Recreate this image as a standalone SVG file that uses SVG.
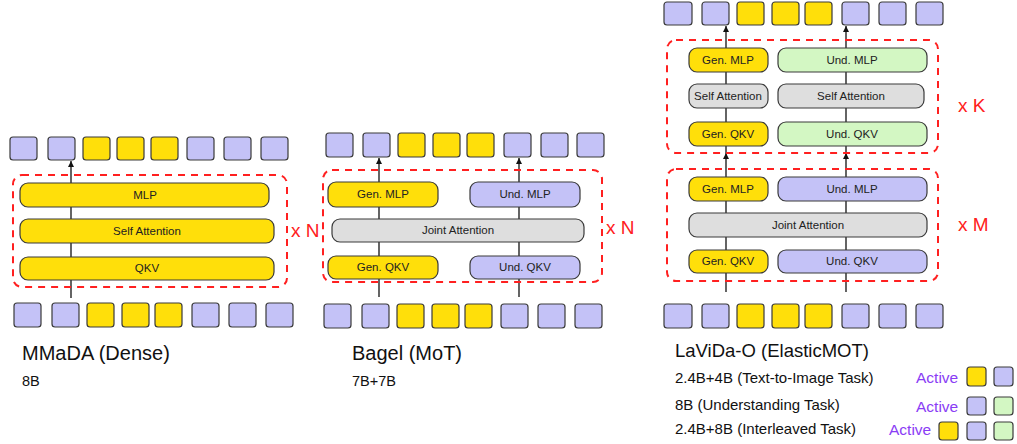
<svg xmlns="http://www.w3.org/2000/svg" width="1017" height="444" viewBox="0 0 1017 444">
<defs>
<style>
.y{fill:#FFDF0A;stroke:#3a3a3a;stroke-width:1.2}
.p{fill:#C4C2F7;stroke:#3a3a3a;stroke-width:1.2}
.g{fill:#D3F7C3;stroke:#3a3a3a;stroke-width:1.2}
.s{fill:#DEDEDE;stroke:#3a3a3a;stroke-width:1.2}
.d{fill:none;stroke:#FF2020;stroke-width:2;stroke-dasharray:7,6}
.c{stroke:#111;stroke-width:1.3;fill:none;marker-end:url(#ah)}
.bt{font-family:"Liberation Sans",Arial,sans-serif;font-size:11.5px;fill:#222;text-anchor:middle}
.rt{font-family:"Liberation Sans",Arial,sans-serif;font-size:19px;fill:#FF2020}
.tt{font-family:"Liberation Sans",Arial,sans-serif;font-size:20px;fill:#111}
.st{font-family:"Liberation Sans",Arial,sans-serif;font-size:14.5px;fill:#111}
.lt{font-family:"Liberation Sans",Arial,sans-serif;font-size:15px;fill:#111}
.at{font-family:"Liberation Sans",Arial,sans-serif;font-size:15.5px;fill:#8A3CF5}
</style>
<marker id="ah" viewBox="0 0 8 8" refX="8" refY="4" markerWidth="6" markerHeight="6" orient="auto" markerUnits="userSpaceOnUse">
<path d="M0,0 L8,4 L0,8 z" fill="#111"/>
</marker>
</defs>
<rect width="1017" height="444" fill="#fff"/>

<g id="connectors">
<line class="c" x1="71" y1="298" x2="71" y2="161"/>
<line class="c" x1="379" y1="297" x2="379" y2="158"/>
<line class="c" x1="519" y1="297" x2="519" y2="158"/>
<line class="c" x1="726" y1="292" x2="726" y2="153"/>
<line class="c" x1="846" y1="292" x2="846" y2="153"/>
<line class="c" x1="726" y1="153" x2="726" y2="26"/>
<line class="c" x1="846" y1="153" x2="846" y2="26"/>
</g>

<!-- Panel 1: MMaDA -->
<g id="mmada-tokens-top">
<rect class="p" x="10" y="137" width="27" height="23" rx="3"/>
<rect class="p" x="48" y="137" width="27" height="23" rx="3"/>
<rect class="y" x="83" y="137" width="27" height="23" rx="3"/>
<rect class="y" x="117" y="137" width="27" height="23" rx="3"/>
<rect class="y" x="151" y="137" width="27" height="23" rx="3"/>
<rect class="p" x="187" y="137" width="27" height="23" rx="3"/>
<rect class="p" x="224" y="137" width="27" height="23" rx="3"/>
<rect class="p" x="261" y="137" width="27" height="23" rx="3"/>
</g>
<g id="mmada-block">
<rect class="d" x="13" y="175" width="274" height="112" rx="9"/>
<text class="rt" x="291" y="237">x N</text>
</g>
<g id="mmada-mlp"><rect class="y" x="20" y="183" width="249" height="24" rx="8"/><text class="bt" x="145" y="199">MLP</text></g>
<g id="mmada-attn"><rect class="y" x="20" y="219" width="254" height="24" rx="8"/><text class="bt" x="147" y="235">Self Attention</text></g>
<g id="mmada-qkv"><rect class="y" x="20" y="257" width="254" height="23" rx="8"/><text class="bt" x="147" y="272">QKV</text></g>
<g id="mmada-tokens-bottom">
<rect class="p" x="14" y="303" width="27" height="24" rx="3"/>
<rect class="p" x="52" y="303" width="27" height="24" rx="3"/>
<rect class="y" x="87" y="303" width="27" height="24" rx="3"/>
<rect class="y" x="122" y="303" width="27" height="24" rx="3"/>
<rect class="y" x="155" y="303" width="27" height="24" rx="3"/>
<rect class="p" x="192" y="303" width="27" height="24" rx="3"/>
<rect class="p" x="229" y="303" width="27" height="24" rx="3"/>
<rect class="p" x="266" y="303" width="27" height="24" rx="3"/>
</g>
<g id="mmada-label">
<text class="tt" x="22" y="360">MMaDA (Dense)</text>
<text class="st" x="22" y="386">8B</text>
</g>

<!-- Panel 2: Bagel -->
<g id="bagel-tokens-top">
<rect class="p" x="326" y="133" width="27" height="24" rx="3"/>
<rect class="p" x="363" y="133" width="27" height="24" rx="3"/>
<rect class="y" x="398" y="133" width="27" height="24" rx="3"/>
<rect class="y" x="433" y="133" width="27" height="24" rx="3"/>
<rect class="y" x="467" y="133" width="27" height="24" rx="3"/>
<rect class="p" x="504" y="133" width="27" height="24" rx="3"/>
<rect class="p" x="541" y="133" width="27" height="24" rx="3"/>
<rect class="p" x="577" y="133" width="27" height="24" rx="3"/>
</g>
<g id="bagel-block">
<rect class="d" x="323" y="170" width="279" height="112" rx="9"/>
<text class="rt" x="606" y="234">x N</text>
</g>
<g id="bagel-gen-mlp"><rect class="y" x="328" y="182" width="110" height="25" rx="8"/><text class="bt" x="383" y="198">Gen. MLP</text></g>
<g id="bagel-und-mlp"><rect class="p" x="470" y="182" width="110" height="25" rx="8"/><text class="bt" x="525" y="198">Und. MLP</text></g>
<g id="bagel-joint"><rect class="s" x="332" y="219" width="252" height="23" rx="8"/><text class="bt" x="458" y="234">Joint Attention</text></g>
<g id="bagel-gen-qkv"><rect class="y" x="328" y="256" width="110" height="23" rx="8"/><text class="bt" x="383" y="271">Gen. QKV</text></g>
<g id="bagel-und-qkv"><rect class="p" x="470" y="256" width="110" height="23" rx="8"/><text class="bt" x="525" y="271">Und. QKV</text></g>
<g id="bagel-tokens-bottom">
<rect class="p" x="324" y="304" width="27" height="24" rx="3"/>
<rect class="p" x="362" y="304" width="27" height="24" rx="3"/>
<rect class="y" x="397" y="304" width="27" height="24" rx="3"/>
<rect class="y" x="432" y="304" width="27" height="24" rx="3"/>
<rect class="y" x="465" y="304" width="27" height="24" rx="3"/>
<rect class="p" x="501" y="304" width="27" height="24" rx="3"/>
<rect class="p" x="538" y="304" width="27" height="24" rx="3"/>
<rect class="p" x="575" y="304" width="27" height="24" rx="3"/>
</g>
<g id="bagel-label">
<text class="tt" x="352" y="360">Bagel (MoT)</text>
<text class="st" x="352" y="386">7B+7B</text>
</g>

<!-- Panel 3: LaViDa-O -->
<g id="lavida-tokens-top">
<rect class="p" x="664" y="2" width="28" height="23" rx="3"/>
<rect class="p" x="702" y="2" width="27" height="23" rx="3"/>
<rect class="y" x="737" y="2" width="27" height="23" rx="3"/>
<rect class="y" x="772" y="2" width="27" height="23" rx="3"/>
<rect class="y" x="805" y="2" width="27" height="23" rx="3"/>
<rect class="p" x="842" y="2" width="27" height="23" rx="3"/>
<rect class="p" x="879" y="2" width="27" height="23" rx="3"/>
<rect class="p" x="916" y="2" width="27" height="23" rx="3"/>
</g>
<g id="lavida-block-k">
<rect class="d" x="667" y="40" width="271" height="113" rx="9"/>
<text class="rt" x="958" y="112">x K</text>
</g>
<g id="k-gen-mlp"><rect class="y" x="689" y="48" width="79" height="24" rx="8"/><text class="bt" x="728" y="64">Gen. MLP</text></g>
<g id="k-und-mlp"><rect class="g" x="778" y="48" width="149" height="24" rx="8"/><text class="bt" x="852" y="64">Und. MLP</text></g>
<g id="k-gen-attn"><rect class="s" x="689" y="84" width="79" height="24" rx="8"/><text class="bt" x="728" y="100">Self Attention</text></g>
<g id="k-und-attn"><rect class="s" x="778" y="84" width="146" height="24" rx="8"/><text class="bt" x="851" y="100">Self Attention</text></g>
<g id="k-gen-qkv"><rect class="y" x="689" y="122" width="79" height="24" rx="8"/><text class="bt" x="728" y="138">Gen. QKV</text></g>
<g id="k-und-qkv"><rect class="g" x="778" y="122" width="149" height="24" rx="8"/><text class="bt" x="852" y="138">Und. QKV</text></g>

<g id="lavida-block-m">
<rect class="d" x="667" y="169" width="271" height="112" rx="9"/>
<text class="rt" x="958" y="231">x M</text>
</g>
<g id="m-gen-mlp"><rect class="y" x="689" y="177" width="79" height="24" rx="8"/><text class="bt" x="728" y="193">Gen. MLP</text></g>
<g id="m-und-mlp"><rect class="p" x="778" y="177" width="149" height="24" rx="8"/><text class="bt" x="852" y="193">Und. MLP</text></g>
<g id="m-joint"><rect class="s" x="689" y="213" width="238" height="24" rx="8"/><text class="bt" x="808" y="229">Joint Attention</text></g>
<g id="m-gen-qkv"><rect class="y" x="689" y="250" width="79" height="23" rx="8"/><text class="bt" x="728" y="265">Gen. QKV</text></g>
<g id="m-und-qkv"><rect class="p" x="778" y="250" width="149" height="23" rx="8"/><text class="bt" x="852" y="265">Und. QKV</text></g>

<g id="lavida-tokens-bottom">
<rect class="p" x="664" y="304" width="28" height="24" rx="3"/>
<rect class="p" x="702" y="304" width="27" height="24" rx="3"/>
<rect class="y" x="737" y="304" width="27" height="24" rx="3"/>
<rect class="y" x="772" y="304" width="27" height="24" rx="3"/>
<rect class="y" x="805" y="304" width="27" height="24" rx="3"/>
<rect class="p" x="842" y="304" width="27" height="24" rx="3"/>
<rect class="p" x="879" y="304" width="27" height="24" rx="3"/>
<rect class="p" x="916" y="304" width="27" height="24" rx="3"/>
</g>
<g id="lavida-label">
<text class="tt" x="675" y="357" style="font-size:18.5px">LaViDa-O (ElasticMOT)</text>
<text class="lt" x="675" y="383">2.4B+4B (Text-to-Image Task)</text>
<text class="lt" x="675" y="410">8B (Understanding Task)</text>
<text class="lt" x="675" y="434">2.4B+8B (Interleaved Task)</text>
</g>
<g id="legend">
<text class="at" x="916" y="383">Active</text>
<rect class="y" x="967" y="367" width="19" height="19" rx="3"/>
<rect class="p" x="994" y="367" width="19" height="19" rx="3"/>
<text class="at" x="916" y="412">Active</text>
<rect class="p" x="967" y="397" width="19" height="18" rx="3"/>
<rect class="g" x="994" y="397" width="19" height="18" rx="3"/>
<text class="at" x="889" y="435">Active</text>
<rect class="y" x="939" y="422" width="19" height="18" rx="3"/>
<rect class="p" x="967" y="422" width="19" height="18" rx="3"/>
<rect class="g" x="994" y="422" width="19" height="18" rx="3"/>
</g>
</svg>
